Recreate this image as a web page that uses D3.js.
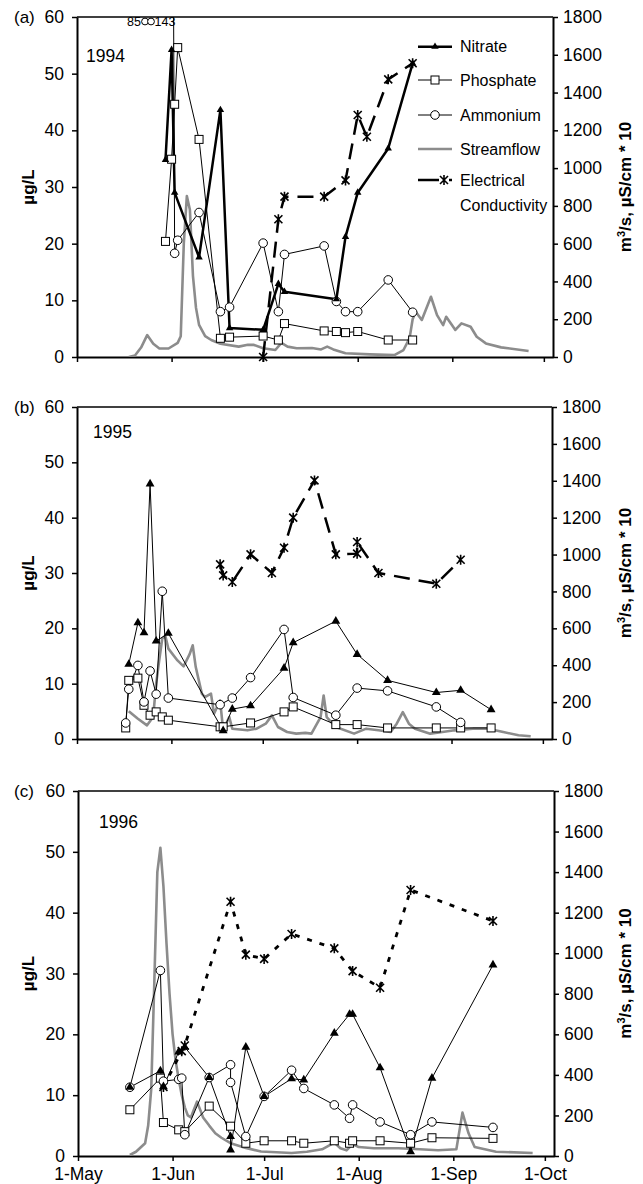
<!DOCTYPE html>
<html>
<head>
<meta charset="utf-8">
<title>Nutrients, streamflow and conductivity 1994-1996</title>
<script src="https://cdn.jsdelivr.net/npm/d3@7/dist/d3.min.js"></script>
<style>
  body { margin: 0; background: #fff; }
  svg { font-family: "Liberation Sans", Arial, sans-serif; }
</style>
</head>
<body>
<svg width="643" height="1184"></svg>
<script>
const monthTicks = ["5/1", "6/1", "7/1", "8/1", "9/1", "10/1"];
const monthLabels = ["1-May", "1-Jun", "1-Jul", "1-Aug", "1-Sep", "1-Oct"];
const concTicks = [0, 10, 20, 30, 40, 50, 60];
const flowTicks = [0, 200, 400, 600, 800, 1000, 1200, 1400, 1600, 1800];
const legendLabels = ["Nitrate", "Phosphate", "Ammonium", "Streamflow", "Electrical", "Conductivity"];

// 1994
const samples94 = ["5/30", "6/1", "6/2", "6/3", "6/10", "6/17", "6/20", "7/1", "7/6", "7/8", "7/21", "7/25", "7/28", "8/1", "8/11", "8/19"];
const nitrate94 = [34.8, 54.2, 29.0, null, 17.6, 43.6, 5.1, 4.8, 12.9, 11.5, null, 10.2, 21.2, 29.0, 36.8, 51.8];
const phosphate94 = [20.4, 34.9, 44.6, 54.6, 38.4, 3.3, 3.5, 3.7, 3.0, 5.9, 4.6, 4.5, 4.3, 4.5, 3.0, 3.0];
const ammonium94 = [85, 143, 18.3, 20.6, 25.5, 8.0, 8.8, 20.1, 8.0, 18.1, 19.6, 9.8, 8.0, 8.0, 13.6, 7.9];
const ecDates94 = ["7/1", "7/6", "7/8", "7/21", "7/28", "8/1", "8/4", "8/11", "8/19"];
const ec94 = [0, 729, 849, 849, 935, 1281, 1166, 1470, 1555];
const flowDates94 = ["5/18", "5/20", "5/22", "5/24", "5/26", "5/28", "5/31", "6/3", "6/4", "6/5", "6/6", "6/7", "6/8", "6/9", "6/10", "6/12", "6/14", "6/17", "6/23", "6/26", "6/28",
  "7/1", "7/5", "7/7", "7/9", "7/12", "7/17", "7/20", "7/22", "7/24", "7/28", "8/5", "8/13", "8/16", "8/18", "8/19", "8/20", "8/22", "8/25", "8/27", "8/29", "8/30",
  "9/2", "9/4", "9/7", "9/9", "9/12", "9/17", "9/26"];
const flow94 = [0, 8, 50, 116, 70, 45, 45, 75, 110, 600, 852, 780, 430, 260, 170, 110, 90, 70, 55, 65, 64,
  46, 37, 75, 55, 46, 48, 40, 55, 40, 20, 14, 10, 37, 100, 200, 240, 196, 319, 222, 169, 213,
  143, 178, 160, 107, 72, 51, 32];

// 1995
const samples95 = ["5/17", "5/18", "5/21", "5/23", "5/25", "5/27", "5/29", "5/31", "6/17", "6/18", "6/21", "6/27", "7/8", "7/11", "7/25", "8/1", "8/11", "8/27", "9/4", "9/14"];
const nitrate95 = [null, 13.5, 21.0, 19.2, 46.1, 17.7, null, 19.1, null, 1.5, 5.4, 6.0, 12.8, 17.4, 21.3, 15.3, 10.6, 8.4, 8.8, 5.3];
const phosphate95 = [2.0, 10.6, 11.0, 6.1, 4.3, 4.9, 4.0, 3.4, 2.2, 2.2, null, 2.9, 4.9, 5.8, 2.6, 2.6, 2.0, 2.0, 2.0, 2.0];
const ammonium95 = [2.9, 9.0, 13.3, 6.7, 12.3, 8.1, 26.7, 7.4, 6.2, null, 7.4, 11.1, 19.8, 7.5, 4.3, 9.2, 8.7, 5.8, 3.0, null];
const ecDates95 = ["6/17", "6/18", "6/21", "6/27", "7/4", "7/8", "7/11", "7/18", "7/25", "8/1", "8/1", "8/8", "8/27", "9/4"];
const ec95 = [947, 887, 851, 1001, 900, 1037, 1200, 1402, 1001, 1005, 1068, 900, 842, 972];
const flowDates95 = ["5/18", "5/21", "5/24", "5/26", "5/27", "5/28", "5/29", "5/30", "5/31",
  "6/3", "6/5", "6/7", "6/8", "6/9", "6/11", "6/12", "6/14", "6/15", "6/17", "6/18", "6/20", "6/21", "6/26", "6/29",
  "7/2", "7/4", "7/6", "7/9", "7/12", "7/15", "7/17", "7/20", "7/21", "7/22", "7/25", "7/31",
  "8/4", "8/8", "8/12", "8/14", "8/16", "8/18", "8/20", "8/25", "8/29", "9/2", "9/8", "9/13", "9/18", "9/23", "9/27"];
const flow95 = [151, 110, 74, 119, 300, 426, 545, 560, 490,
  426, 394, 460, 508, 390, 246, 227, 246, 137, 209, 47, 119, 56, 47, 56,
  83, 128, 65, 38, 29, 33, 29, 119, 236, 119, 65, 29,
  56, 47, 38, 83, 146, 83, 56, 29, 38, 47, 56, 56, 38, 20, 15];

// 1996
const samples96 = ["5/18", "5/28", "5/29", "6/3", "6/4", "6/5", "6/13", "6/20", "6/20", "6/25", "7/1", "7/10", "7/14", "7/24", "7/29", "7/30", "8/8", "8/18", "8/25", "9/14"];
const nitrate96 = [11.3, 14.0, 11.4, 17.1, null, 17.9, 12.9, 3.2, 1.0, 17.9, 9.8, 12.7, 12.5, 20.2, 23.3, 23.3, 14.5, 0.7, 12.8, 31.4];
const phosphate96 = [7.6, 12.8, 5.5, 4.3, null, 4.0, 8.2, 4.9, null, 2.1, 2.5, 2.5, 2.1, 2.5, 2.1, 2.5, 2.5, 2.1, 3.0, 2.9];
const ammonium96 = [11.3, 30.5, 12.3, 12.6, 12.8, 3.5, 12.9, 15.0, 12.1, 3.2, 9.8, 14.1, 11.1, 8.4, 6.2, 8.4, 5.6, 3.5, 5.6, 4.7];
const ecDates96 = ["5/29", "6/4", "6/5", "6/20", "6/25", "7/1", "7/10", "7/24", "7/30", "8/8", "8/18", "9/14"];
const ec96 = [340, 517, 545, 1254, 993, 972, 1095, 1024, 912, 830, 1312, 1159];
const flowDates96 = ["5/18", "5/20", "5/23", "5/24", "5/25", "5/26", "5/27", "5/28", "5/29", "5/30", "5/31",
  "6/1", "6/2", "6/3", "6/4", "6/5", "6/6", "6/7", "6/8", "6/9", "6/10", "6/11", "6/13", "6/15", "6/17", "6/20", "6/25", "6/30",
  "7/10", "7/15", "7/20", "7/24", "7/26", "7/28", "7/30", "8/1", "8/6", "8/14", "8/21", "8/27",
  "9/2", "9/4", "9/6", "9/8", "9/15", "9/27"];
const flow96 = [5, 21, 63, 150, 330, 850, 1400, 1520, 1330, 1050, 800,
  600, 470, 380, 300, 240, 200, 190, 230, 268, 230, 190, 150, 112, 90, 63, 40, 22,
  15, 21, 33, 66, 38, 28, 59, 44, 38, 38, 33, 28,
  33, 214, 112, 44, 21, 15];

const grey = "#8c8c8c";

const panels = [
  { tag: "(a)", year: 1994, top: 17, bottom: 357, left: 77, right: 553, yearX: 86, yearY: 62,
    samples: samples94, nitrate: nitrate94, phosphate: phosphate94, ammonium: ammonium94,
    ecDates: ecDates94, ec: ec94, flowDates: flowDates94, flow: flow94,
    nitrateWidth: 2.5, triSize: 24, ecDash: "16,9", ecWidth: 2.5 },
  { tag: "(b)", year: 1995, top: 407, bottom: 739, left: 77, right: 552, yearX: 93, yearY: 438,
    samples: samples95, nitrate: nitrate95, phosphate: phosphate95, ammonium: ammonium95,
    ecDates: ecDates95, ec: ec95, flowDates: flowDates95, flow: flow95,
    nitrateWidth: 1, triSize: 34, ecDash: "16,9", ecWidth: 2.5 },
  { tag: "(c)", year: 1996, top: 791, bottom: 1156, left: 78, right: 554, yearX: 99, yearY: 828,
    samples: samples96, nitrate: nitrate96, phosphate: phosphate96, ammonium: ammonium96,
    ecDates: ecDates96, ec: ec96, flowDates: flowDates96, flow: flow96,
    nitrateWidth: 1, triSize: 34, ecDash: "5,8", ecWidth: 2.8, showMonths: true }
];

const svg = d3.select("svg");
const asDate = (year, s) => { const [m, d] = s.split("/").map(Number); return new Date(year, m - 1, d); };
const pairs = (year, dates, values) => dates.map((s, i) => ({ date: asDate(year, s), v: values[i] })).filter(d => d.v != null);
const asterisk = "M-4,-4L4,4M-4,4L4,-4M0,-5V5";

const styleAxis = sel => {
  sel.attr("font-family", null).attr("font-size", 17.5);
  sel.select(".domain").attr("stroke-width", 2);
  sel.selectAll(".tick line").attr("stroke-width", 1.5);
  sel.selectAll(".tick text").attr("fill", "#000");
};

panels.forEach((p, i) => {
  const x = d3.scaleTime().domain([new Date(p.year, 4, 1), new Date(p.year, 9, 4)]).range([p.left, p.right]);
  const yConc = d3.scaleLinear().domain([0, 60]).range([p.bottom, p.top]);
  const yFlow = d3.scaleLinear().domain([0, 1800]).range([p.bottom, p.top]);
  const mid = (p.top + p.bottom) / 2;

  svg.append("clipPath").attr("id", `plot${i}`)
    .append("rect")
    .attr("x", p.left).attr("y", p.top)
    .attr("width", p.right - p.left).attr("height", p.bottom - p.top);

  const g = svg.append("g");

  g.append("g").attr("transform", `translate(${p.left},0)`)
    .call(d3.axisLeft(yConc).tickValues(concTicks).tickSize(5).tickSizeOuter(0).tickPadding(8))
    .call(styleAxis);

  g.append("g").attr("transform", `translate(${p.right},0)`)
    .call(d3.axisRight(yFlow).tickValues(flowTicks).tickFormat(d3.format("d"))
      .tickSize(5).tickSizeOuter(0).tickPadding(5))
    .call(styleAxis);

  g.append("g").attr("transform", `translate(0,${p.bottom})`)
    .call(d3.axisBottom(x).tickValues(monthTicks.map(s => asDate(p.year, s)))
      .tickSize(5).tickSizeOuter(0).tickPadding(7)
      .tickFormat((d, k) => p.showMonths ? monthLabels[k] : ""))
    .call(styleAxis);

  g.append("line")
    .attr("x1", p.left).attr("x2", p.right)
    .attr("y1", p.top).attr("y2", p.top)
    .attr("stroke", "#000").attr("stroke-width", 1.5);

  g.append("text").attr("x", 14).attr("y", p.top).attr("dy", "0.35em")
    .attr("font-size", 17).text(p.tag);
  g.append("text").attr("x", p.yearX).attr("y", p.yearY)
    .attr("font-size", 17.5).text(p.year);

  g.append("text")
    .attr("transform", `translate(28,${mid}) rotate(-90)`)
    .attr("text-anchor", "middle").attr("dy", "0.35em")
    .attr("font-size", 17).attr("font-weight", "bold")
    .text("µg/L");

  const rightTitle = g.append("text")
    .attr("transform", `translate(625,${mid}) rotate(-90)`)
    .attr("text-anchor", "middle").attr("dy", "0.35em")
    .attr("font-size", 17).attr("font-weight", "bold");
  rightTitle.append("tspan").text("m");
  rightTitle.append("tspan").attr("dy", -6).attr("font-size", 11).text("3");
  rightTitle.append("tspan").attr("dy", 6).text("/s, µS/cm * 10");

  const lines = g.append("g").attr("clip-path", `url(#plot${i})`);
  const marks = g.append("g");

  const flow = pairs(p.year, p.flowDates, p.flow);
  const ec = pairs(p.year, p.ecDates, p.ec);
  const nitrate = pairs(p.year, p.samples, p.nitrate);
  const phosphate = pairs(p.year, p.samples, p.phosphate);
  const ammonium = pairs(p.year, p.samples, p.ammonium);

  const flowLine = d3.line().x(d => x(d.date)).y(d => yFlow(d.v));
  const concLine = d3.line().x(d => x(d.date)).y(d => yConc(d.v));
  const inside = d => d.v <= 60;

  lines.append("path").datum(flow)
    .attr("d", flowLine)
    .attr("fill", "none").attr("stroke", grey).attr("stroke-width", 2.6)
    .attr("stroke-linejoin", "round");

  lines.append("path").datum(ec)
    .attr("d", flowLine)
    .attr("fill", "none").attr("stroke", "#000").attr("stroke-width", p.ecWidth)
    .attr("stroke-dasharray", p.ecDash);
  marks.selectAll(".ec").data(ec).enter()
    .append("path")
    .attr("transform", d => `translate(${x(d.date)},${yFlow(d.v)})`)
    .attr("d", asterisk)
    .attr("fill", "none").attr("stroke", "#000").attr("stroke-width", 1.6);

  lines.append("path").datum(phosphate)
    .attr("d", concLine)
    .attr("fill", "none").attr("stroke", "#000").attr("stroke-width", 1);
  marks.selectAll(".phosphate").data(phosphate.filter(inside)).enter()
    .append("rect")
    .attr("x", d => x(d.date) - 4).attr("y", d => yConc(d.v) - 4)
    .attr("width", 8).attr("height", 8)
    .attr("fill", "#fff").attr("stroke", "#000").attr("stroke-width", 1);

  lines.append("path").datum(ammonium)
    .attr("d", concLine)
    .attr("fill", "none").attr("stroke", "#000").attr("stroke-width", 1);
  marks.selectAll(".ammonium").data(ammonium.filter(inside)).enter()
    .append("circle")
    .attr("cx", d => x(d.date)).attr("cy", d => yConc(d.v)).attr("r", 4.3)
    .attr("fill", "#fff").attr("stroke", "#000").attr("stroke-width", 1);

  lines.append("path").datum(nitrate)
    .attr("d", concLine)
    .attr("fill", "none").attr("stroke", "#000").attr("stroke-width", p.nitrateWidth)
    .attr("stroke-linejoin", "round");
  marks.selectAll(".nitrate").data(nitrate.filter(inside)).enter()
    .append("path")
    .attr("transform", d => `translate(${x(d.date)},${yConc(d.v)})`)
    .attr("d", d3.symbol(d3.symbolTriangle, p.triSize))
    .attr("fill", "#000");

  if (i === 0) {
    // off-scale ammonium values
    const note = g.append("g").attr("font-size", 12.5);
    note.append("text").attr("x", 141).attr("y", 26).attr("text-anchor", "end").text("85");
    note.append("circle").attr("cx", 145).attr("cy", 21.5).attr("r", 3.4).attr("fill", "#fff").attr("stroke", "#000");
    note.append("circle").attr("cx", 151).attr("cy", 21.5).attr("r", 3.4).attr("fill", "#fff").attr("stroke", "#000");
    note.append("text").attr("x", 154.5).attr("y", 26).text("143");

    const legend = g.append("g").attr("font-size", 16);
    const rows = [46.7, 80, 115, 149, 180, 205];
    legend.selectAll("text").data(legendLabels).enter()
      .append("text")
      .attr("x", 460).attr("y", (d, k) => rows[k]).attr("dy", "0.35em")
      .text(d => d);

    legend.append("line").attr("x1", 418).attr("x2", 452).attr("y1", rows[0]).attr("y2", rows[0])
      .attr("stroke", "#000").attr("stroke-width", 2.5);
    legend.append("path").attr("transform", `translate(435,${rows[0]})`)
      .attr("d", d3.symbol(d3.symbolTriangle, 24)).attr("fill", "#000");

    legend.append("line").attr("x1", 418).attr("x2", 452).attr("y1", rows[1]).attr("y2", rows[1])
      .attr("stroke", "#000").attr("stroke-width", 1);
    legend.append("rect").attr("x", 431).attr("y", rows[1] - 4).attr("width", 8).attr("height", 8)
      .attr("fill", "#fff").attr("stroke", "#000");

    legend.append("line").attr("x1", 418).attr("x2", 452).attr("y1", rows[2]).attr("y2", rows[2])
      .attr("stroke", "#000").attr("stroke-width", 1);
    legend.append("circle").attr("cx", 435).attr("cy", rows[2]).attr("r", 4.3)
      .attr("fill", "#fff").attr("stroke", "#000");

    legend.append("line").attr("x1", 418).attr("x2", 452).attr("y1", rows[3]).attr("y2", rows[3])
      .attr("stroke", grey).attr("stroke-width", 2.6);

    legend.append("line").attr("x1", 418).attr("x2", 439).attr("y1", rows[4]).attr("y2", rows[4])
      .attr("stroke", "#000").attr("stroke-width", 2.5);
    legend.append("line").attr("x1", 449).attr("x2", 452).attr("y1", rows[4]).attr("y2", rows[4])
      .attr("stroke", "#000").attr("stroke-width", 2.5);
    legend.append("path").attr("transform", `translate(444,${rows[4]})`).attr("d", asterisk)
      .attr("fill", "none").attr("stroke", "#000").attr("stroke-width", 1.6);
  }
});
</script>
</body>
</html>
